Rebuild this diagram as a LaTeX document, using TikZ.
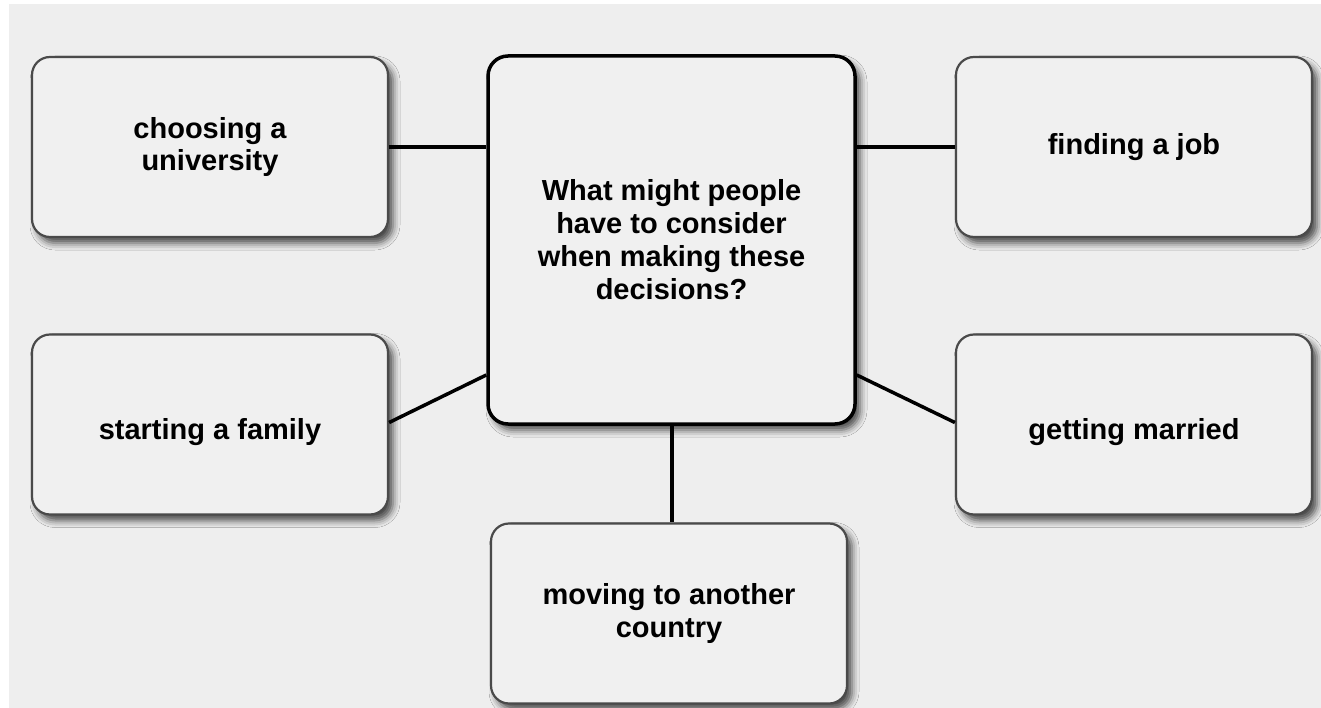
\documentclass[tikz,border=0pt]{standalone}
\usepackage{fontspec}
\setmainfont{Liberation Sans}
\usetikzlibrary{shadows.blur}
\definecolor{bg}{HTML}{EEEEEE}
\definecolor{boxfill}{HTML}{F0F0F0}
\definecolor{boxline}{HTML}{4A4A4A}
\tikzset{
  sidebox/.style={draw=boxline, line width=2.2pt, fill=boxfill, rounded corners=18pt,
    minimum width=356pt, minimum height=180pt, align=center, inner sep=0pt,
    font=\bfseries\fontsize{29}{32.5}\selectfont,
    blur shadow={shadow xshift=5pt, shadow yshift=-6pt, shadow blur radius=7pt, shadow opacity=70}},
  lowtext/.style={text height=35pt, text depth=6pt},
  centrebox/.style={draw=black, line width=3.5pt, fill=boxfill, rounded corners=20pt,
    minimum width=367pt, minimum height=368pt, align=center, inner sep=0pt,
    font=\bfseries\fontsize{29}{33}\selectfont,
    blur shadow={shadow xshift=5pt, shadow yshift=-6pt, shadow blur radius=7pt, shadow opacity=70}},
  link/.style={draw=black, line width=3.5pt}
}
\begin{document}
\begin{tikzpicture}[x=1pt,y=-1pt]
\useasboundingbox (0,0) rectangle (1321,708);
\fill[white] (0,0) rectangle (1321,708);
\fill[bg] (9,4) rectangle (1321,708);
% nodes
\node[centrebox] (ctr) at (671.5,240) {\raisebox{3pt}{\parbox{360pt}{\centering What might people\\have to consider\\when making these\\decisions?}}};
\node[sidebox] (uni) at (210,147) {choosing a\\university};
\node[sidebox] (job) at (1134,147) {finding a job};
\node[sidebox, lowtext] (fam) at (210,424.5) {starting a family};
\node[sidebox, lowtext] (mar) at (1134,424.5) {getting married};
\node[sidebox] (mov) at (669,613.5) {\raisebox{-2pt}{\parbox{350pt}{\centering moving to another\\country}}};
% connectors
\coordinate (cl) at ([yshift=-135pt]ctr.west);
\coordinate (cr) at ([yshift=-135pt]ctr.east);
\draw[link] (uni.east) -- (uni.east -| ctr.west);
\draw[link] (ctr.east |- job.west) -- (job.west);
\draw[link] ([yshift=2pt]fam.east) -- (cl);
\draw[link] (cr) -- ([yshift=2pt]mar.west);
\draw[link] (ctr.south -| mov.north) ++(3,0) -- ([xshift=3pt]mov.north);
\end{tikzpicture}
\end{document}
